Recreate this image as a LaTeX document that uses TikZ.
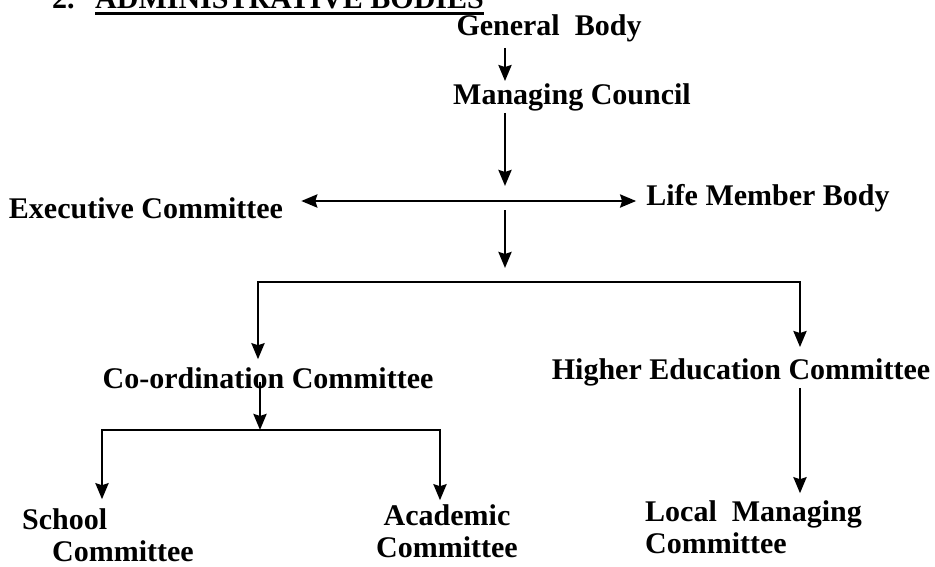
\documentclass[tikz,border=0pt]{standalone}
\usepackage{fontspec}
\setmainfont{Liberation Serif}
\usepackage{xcolor}
\usetikzlibrary{arrows.meta}

\begin{document}
\begin{tikzpicture}[
    x=1pt, y=-1pt,
    every node/.style={font=\fontsize{30}{32}\selectfont\bfseries, inner sep=2pt},
    link/.style={->, line width=2.8pt, >={Stealth[length=16pt,width=13pt,inset=2pt]}},
    bilink/.style={<->, line width=2.8pt, >={Stealth[length=16pt,width=13pt,inset=2pt]}},
    ]
    \useasboundingbox[fill=white] (0,0) rectangle (935,566);
    \clip (0,0) rectangle (935,566);
    \node[anchor=base west, inner sep=0pt] (num) at (52,8) {2.};
    \node[anchor=base west, inner sep=0pt] (title) at (95,8) {ADMINISTRATIVE BODIES};
    \draw[line width=2.2pt] ([yshift=-5.5pt]title.base west) -- ([yshift=-5.5pt]title.base east);
    \node (gb) at (549,28) {General\ \ Body};
    \node (mc) at (572,97) {Managing Council};
    \node (ec) at (146,208) {Executive Committee};
    \node (lm) at (768,198) {Life Member Body};
    \node (cc) at (268,378) {Co-ordination Committee};
    \node (he) at (741,372) {Higher Education Committee};
    \node[align=left] (sc) at (108,535) {School\\\hspace*{1em}Committee};
    \node[align=center] (ac) at (447,531) {Academic\\Committee};
    \node[align=left, anchor=west] (lmc) at (643,527) {Local\ \ Managing\\Committee};
    \coordinate (spine) at (505,0);
    \coordinate (hub) at (505,201);
    \coordinate (busL) at (258,282);
    \coordinate (busR) at (800,282);
    \coordinate (sub) at (260,430);
    \coordinate (subL) at (102,430);
    \coordinate (subR) at (440,430);
    \draw[link, shorten <=4pt] (gb.south -| spine) -- (mc.north -| spine);
    \draw[link] (mc.south -| spine) -- ([yshift=15pt]hub);
    \draw[bilink, shorten <=16pt, shorten >=8pt] (ec.east |- hub) -- (lm.west |- hub);
    \draw[link] ([yshift=-9pt]hub) -- ([yshift=14pt]busL -| hub);
    \draw[bilink, shorten <=6pt, shorten >=9pt] (cc.north -| busL) -- (busL) -- (busR) -- (he.north -| busR);
    \draw[link] ([yshift=-4pt]cc.center -| sub) -- (sub);
    \draw[bilink, shorten <=7pt, shorten >=2pt] (sc.north -| subL) -- (subL) -- (subR) -- (ac.north -| subR);
    \draw[link, shorten >=5pt] (he.south -| busR) -- (lmc.north -| busR);
\end{tikzpicture}
\end{document}
